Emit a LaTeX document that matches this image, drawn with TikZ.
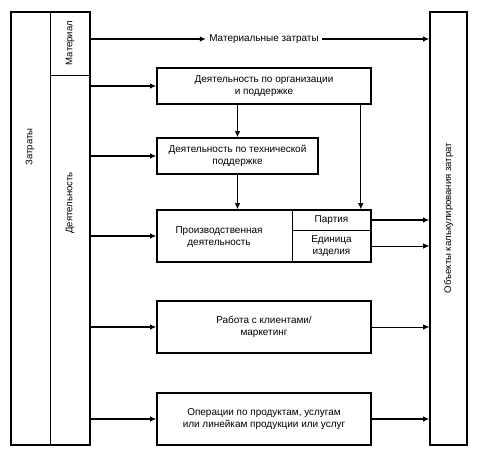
\documentclass[tikz,border=0pt]{standalone}
\usepackage{fontspec}
\setmainfont{Liberation Sans}
\usetikzlibrary{arrows.meta}

\begin{document}
\begin{tikzpicture}[x=1bp,y=-1bp,
		font=\fontsize{10}{12.5}\selectfont,
		box/.style={draw,line width=1.6bp,minimum width=#1,inner sep=0pt,align=center},
		cell/.style={draw,line width=0.8bp,inner sep=0pt},
		vlabel/.style={rotate=90,inner sep=1pt,font=\fontsize{9.6}{12}\selectfont},
		arr/.style={line width=1.6bp,-{Latex[length=6bp,width=5.5bp]}},
		thinarr/.style={line width=0.8bp,-{Latex[length=6bp,width=5.5bp]}}]
	\useasboundingbox (0,0) rectangle (477,455);
	\node[cell,minimum width=40bp,minimum height=63bp] (mat) at (70,43.5) {};
	\node[cell,minimum width=40bp,minimum height=370bp] (act) at (70,260) {};
	\node[box=79bp,minimum height=433bp] (costs) at (50.5,228.5) {};
	\node[vlabel] (lcosts) at (30,147) {Затраты};
	\node[vlabel] (lmat) at (70,43) {Материал};
	\node[vlabel] (lact) at (70,203) {Деятельность};
	\node[box=37bp,minimum height=433bp] (obj) at (448.5,228.5) {};
	\node[vlabel] (lobj) at (448.5,218) {Объекты калькулирования затрат};
	\node[box=214bp,minimum height=36bp] (org) at (264,86) {Деятельность по организации\\и поддержке};
	\node[box=161bp,minimum height=36bp] (tech) at (237.5,156) {Деятельность по технической\\поддержке};
	\node[cell,minimum width=79bp,minimum height=20bp] (batch) at (331.5,220) {Партия};
	\node[cell,minimum width=79bp,minimum height=32bp,align=center] (unit) at (331.5,246) {Единица\\изделия};
	\node[box=214bp,minimum height=52bp] (prod) at (264,236) {};
	\node[align=center] (lprod) at (219,237) {Производственная\\деятельность};
	\node[box=214bp,minimum height=52bp] (client) at (264,327) {Работа с клиентами/\\маркетинг};
	\node[box=214bp,minimum height=52bp] (oper) at (264,419) {Операции по продуктам, услугам\\или линейкам продукции или услуг};
	\node (mcost) at (264,39) {Материальные затраты};
	\draw[arr] (mcost.west -| mat.east) -- (mcost.west);
	\draw[arr] (mcost.east) -- (mcost.east -| obj.west);
	\draw[arr] (org.west -| act.east) -- (org.west);
	\draw[arr] (tech.west -| act.east) -- (tech.west);
	\draw[arr] (prod.west -| act.east) -- (prod.west);
	\draw[arr] (client.west -| act.east) -- (client.west);
	\draw[arr] (oper.west -| act.east) -- (oper.west);
	\draw[arr] (org.south -| tech.north) -- (tech.north);
	\draw[arr] (tech.south) -- (tech.south |- prod.north);
	\draw[thinarr] ([xshift=-11bp]org.south east) -- ([xshift=-11bp]prod.north east);
	\draw[arr] (batch.east) -- (batch.east -| obj.west);
	\draw[thinarr] (unit.east) -- (unit.east -| obj.west);
	\draw[thinarr] (client.east) -- (client.east -| obj.west);
	\draw[arr] (oper.east) -- (oper.east -| obj.west);
\end{tikzpicture}
\end{document}
